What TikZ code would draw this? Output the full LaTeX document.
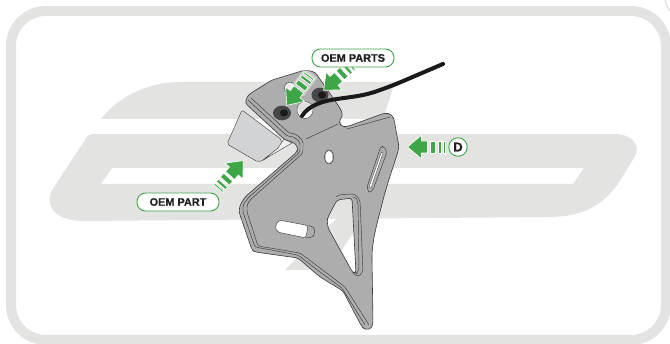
\documentclass[tikz,border=0pt]{standalone}
\usepackage{fontspec}
\setmainfont[BoldFeatures={FakeBold=0.5}]{Liberation Sans}
\definecolor{logogray}{HTML}{E3E3E1}
\definecolor{plate}{HTML}{ADADAD}
\definecolor{edge}{HTML}{3A3A3A}
\definecolor{oemgreen}{HTML}{3FA648}
\definecolor{partgray}{HTML}{D1D3D4}
\definecolor{inkdark}{HTML}{231F20}
\tikzset{
  logofill/.style={fill=logogray,draw=none},
  platefill/.style={fill=plate,draw=edge,line width=0.6pt,even odd rule},
  emboss/.style={draw=edge,line width=0.45pt,line join=round},
  pill/.style={draw=oemgreen,fill=white,line width=0.9pt,rounded corners=8.5pt,font=\bfseries\fontsize{10.9}{11}\selectfont,text=inkdark,inner sep=0pt},
  bolt/.style={fill=#1,draw=none},
  arrowpiece/.style={fill=oemgreen,draw=white,line width=0.6pt},
}
\newcommand{\greenarrow}[3]{%
  \begin{scope}[shift={(#1,#2)},rotate=#3]
    \path[arrowpiece] (-0.5,0) -- (13.5,-11.8) -- (13.5,-6) -- (19.5,-6) -- (19.5,6) -- (13.5,6) -- (13.5,11.8) -- cycle;
    \path[arrowpiece] (22,-6) rectangle (27,6);
    \path[arrowpiece] (30,-6) rectangle (33,6);
    \path[arrowpiece] (35.2,-6) rectangle (37,6);
  \end{scope}}
\begin{document}
\begin{tikzpicture}[x=1pt,y=-1pt]
\useasboundingbox (0,0) rectangle (670,344);
\fill[white] (0,0) rectangle (670,344);
% frame
\draw[logogray,line width=10pt,rounded corners=35pt] (11,11) rectangle (666,340);
\draw[logogray,line width=1.5pt] (665,0) .. controls (666,5) and (668,9) .. (670,11);
% logo
\fill[logofill] (101,119) .. controls (120,95) and (150,82) .. (180,82) -- (395,82) -- (383,119) -- cycle;
\fill[logofill,even odd rule] (92,134) -- (615,134) .. controls (632,134) and (642,146) .. (634,158) -- (618,184) .. controls (600,208) and (580,217) .. (548,217) -- (83,221) .. controls (58,221) and (44,208) .. (52,190) -- (85,140) .. controls (87,136) and (89,134) .. (92,134) -- cycle
  (112,168) -- (584,168) -- (573,184) -- (101,184) -- cycle;
\fill[logofill] (285,270) -- (328,270) -- (367,213) -- (342,213) -- cycle;
% OEM part under flap
\fill[partgray,draw=edge,line width=0.4pt,rounded corners=2pt] (242,110) -- (227,144) -- (258,162) -- (264,160) -- (280,147) -- (282,140) -- cycle;
\fill[logogray!60!white,draw=edge,line width=0.4pt] (263,160) -- (292,143) -- (284,139) -- (278,148) -- cycle;
% bracket
\draw[platefill,rounded corners=3pt]
  (245,103) -- (248,95) -- (272,80) -- (305,70) -- (315,72) -- (340,108) -- (343,115) -- (339,121) -- (341,126) -- (346,127) -- (385,113) -- (391,114) -- (394,119) -- (399,147) -- (397,155)
  .. controls (392,170) and (387,185) .. (383,200) .. controls (378,220) and (372,240) .. (372,260) -- (373,322) -- (372,328) -- (366,330) -- (362,327) -- (343,291) -- (320,277) -- (298,258) -- (255,252) -- (252,250) -- (239,212) -- (240,205) -- (245,197) -- (297,152) -- (298,147) -- (293,142) -- (285,140) -- cycle
  % triangular hole
  (337,200) -- (352,198) -- (356,273) -- (353,273) -- (328,228) -- (327,219) -- cycle;
% left slot
\fill[white,draw=edge,line width=0.45pt,rounded corners=3pt] (279,220) -- (308,225.5) -- (306,238) -- (277,232) -- (275,226) -- cycle;
% right slit
\fill[white,draw=edge,line width=0.3pt] (381.5,152) -- (383,153) -- (371,188) -- (369,187) -- cycle;
\fill[white] (329,157) ellipse [x radius=3.5pt,y radius=6pt];
\draw[emboss] (329,157) ellipse [x radius=4.5pt,y radius=7pt];
% embossing around cut-outs
\draw[emboss,rounded corners=3pt] (336,197) -- (340,194.5) -- (355,194) -- (360,200) -- (363,272) -- (358,277) -- (354,274);
\draw[emboss,rounded corners=2pt] (352,197) -- (356,197) -- (358,203) -- (359,270) -- (356,274);
\draw[emboss,rounded corners=2.5pt] (308,225.5) -- (314,227) -- (315,232) -- (313,237) -- (306,238);
\draw[emboss,rounded corners=2pt] (381,146) -- (384,146.5) -- (387,152) -- (373,190) -- (369,193) -- (367,187) -- cycle;
% embossed lines along the edges
\draw[emboss,rounded corners=2.5pt] (248,100) -- (287,136) -- (294,137) -- (300,142) -- (300,152) -- (248,198) -- (243,205) -- (243,212) -- (255,247) -- (298,255) -- (320,272) -- (342,288) -- (365,325);
\draw[emboss,rounded corners=2.5pt] (251,98) -- (289,133) -- (296,134) -- (303,141) -- (303,153) -- (250,200) -- (247,205) -- (247,212) -- (258,246) -- (300,253) -- (320,268) -- (345,287) -- (369,325);
\draw[emboss] (347,129) -- (390,117);
\draw[emboss] (306,139) -- (338,124);
% holes and bolts on flap
\fill[plate!25!white,draw=edge,line width=0.4pt] (290,88) ellipse [x radius=5.5pt,y radius=6pt];
\fill[white,draw=edge,line width=0.4pt] (305,110) ellipse [x radius=8pt,y radius=8.5pt];
\fill[plate!40!white] (298,106) -- (304,102.5) -- (311,104) -- (306,110) -- (299,113) -- cycle;
\fill[bolt=black!72] (282,113) ellipse [x radius=9pt,y radius=7.3pt];
\fill[bolt=black!90] (284,113) ellipse [x radius=4pt,y radius=3.5pt];
\fill[bolt=black!72] (320,95) ellipse [x radius=8.5pt,y radius=7.3pt];
\fill[bolt=black!90] (322,95) ellipse [x radius=4pt,y radius=3.5pt];
% pale band behind the dashes of the arrow on the flap
\begin{scope}[shift={(287,105)},rotate=53]
  \fill[white,opacity=0.45] (17,-8) rectangle (40,8);
\end{scope}
% green arrows
\greenarrow{287}{105}{53}
\greenarrow{324}{90}{42}
\greenarrow{243}{161}{228}
\greenarrow{408}{147}{0}
% cable
\draw[black!90,line width=4pt,line cap=round] (443,64) .. controls (410,78) and (395,85) .. (380,90) .. controls (365,96) and (350,97) .. (337,99) .. controls (322,101) and (308,106) .. (302,116);
% labels
\node[pill,minimum width=82pt,minimum height=18pt] (oemparts) at (353,58) {OEM PARTS};
\node[pill,minimum width=82pt,minimum height=18pt] (oempart) at (178,202) {OEM PART};
\node[circle,draw=oemgreen,fill=white,line width=0.9pt,minimum size=18.5pt,inner sep=0pt,text=inkdark,font=\bfseries\fontsize{13}{13}\selectfont] (dlabel) at (458,147) {D};
\end{tikzpicture}
\end{document}
